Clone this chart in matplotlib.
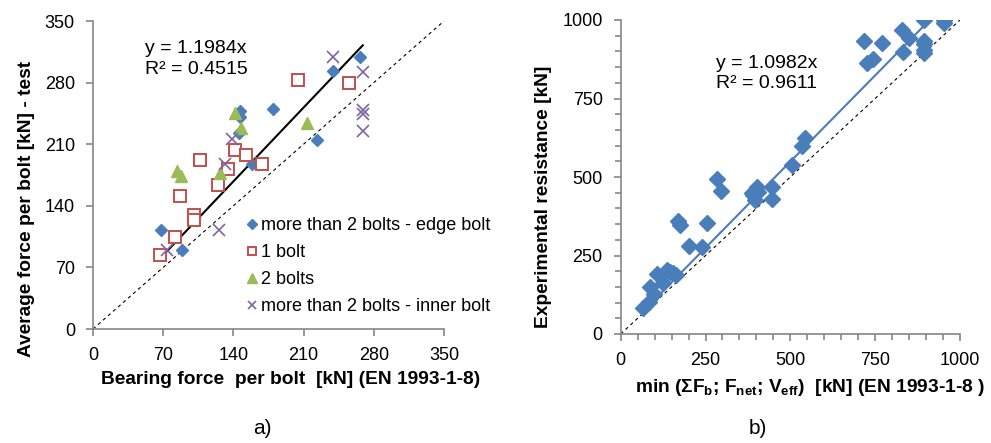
import numpy as np
import matplotlib
matplotlib.use("Agg")
import matplotlib.pyplot as plt
from matplotlib.ticker import MultipleLocator

plt.rcParams['font.family'] = ['Liberation Sans', 'DejaVu Sans']
plt.rcParams['mathtext.fontset'] = 'custom'
plt.rcParams['mathtext.rm'] = 'Liberation Sans:bold'
plt.rcParams['mathtext.it'] = 'Liberation Sans:bold'
plt.rcParams['mathtext.bf'] = 'Liberation Sans:bold'

# ---- panel a) data: bearing force per bolt vs average test force per bolt
edge_x = [68, 89, 147, 147, 146, 159, 179, 223, 239, 266]
edge_y = [112, 90, 248, 241, 223, 187, 250, 215, 293, 309]

one_x = [67, 82, 87, 101, 101, 107, 125, 135, 142, 153, 169, 204, 255]
one_y = [84, 104, 151, 130, 124, 192, 164, 182, 203, 198, 188, 283, 280]

two_x = [84, 88, 127, 142, 148, 213]
two_y = [180, 174, 177, 246, 228, 234]

inner_x = [74, 126, 132, 139, 239, 269, 269, 269, 269]
inner_y = [90, 112, 187, 216, 309, 292, 249, 244, 225]

slope_a = 1.1984
r2_a = 0.4515

# ---- panel b) data: min(sum Fb; Fnet; Veff) vs experimental resistance
res_x = [67, 82, 86, 99, 106, 126, 136, 145, 155, 163, 168, 175, 201, 239,
         254, 283, 295, 386, 391, 396, 401, 406, 445, 445, 506, 534, 544,
         718, 726, 745, 770, 829, 831, 851, 893, 893, 893, 893, 893, 954, 954]
res_y = [82, 103, 151, 126, 191, 163, 204, 198, 193, 188, 360, 347, 281, 278,
         353, 494, 455, 450, 443, 427, 469, 453, 469, 429, 538, 600, 623,
         934, 862, 876, 926, 968, 899, 942, 1000, 934, 922, 904, 896, 1000, 991]

slope_b = 1.0982
r2_b = 0.9611

blue = '#4A7EBB'
red = '#C0504D'
green = '#9BBB59'
purple = '#8064A2'
axis_col = '#868686'
tick_fs = 13
label_fs = 13.8
W, H = 991, 443


def style_axes(ax):
    for s in ['top', 'right']:
        ax.spines[s].set_visible(False)
    for s in ['left', 'bottom']:
        ax.spines[s].set_color(axis_col)
        ax.spines[s].set_linewidth(1.2)
    ax.tick_params(which='both', direction='out', color=axis_col, width=1.2,
                   labelsize=tick_fs, pad=8)
    ax.tick_params(which='major', length=5)
    ax.tick_params(which='minor', length=4)


fig = plt.figure(figsize=(9.91, 4.43), dpi=100)

# ---------------- a)
ax1 = fig.add_axes([93 / W, 1 - 329 / H, 351 / W, 308 / H])
ax1.plot([0, 350], [0, 350], ls=(0, (3, 3)), color='black', lw=0.8)
all_a = edge_x + one_x + two_x + inner_x
xa = np.array([min(all_a), max(all_a)])
ax1.plot(xa, slope_a * xa, color='black', lw=1.5)

ax1.plot(edge_x, edge_y, 'D', color=blue, ms=6.5, ls='none',
         label='more than 2 bolts - edge bolt')
ax1.plot(one_x, one_y, 's', mfc='white', mec=red, mew=1.4, ms=8, ls='none',
         label='1 bolt')
ax1.plot(two_x, two_y, '^', color=green, ms=8.5, ls='none', label='2 bolts')
ax1.plot(inner_x, inner_y, 'x', color=purple, mew=1.2, ms=8, ls='none',
         label='more than 2 bolts - inner bolt')

ax1.set_xlim(0, 350)
ax1.set_ylim(0, 350)
ax1.set_xticks(np.arange(0, 351, 70))
ax1.set_yticks(np.arange(0, 351, 70))
style_axes(ax1)
ax1.text(52, 328, f'y = {slope_a}x\nR² = {r2_a}', fontsize=14, va='top',
         linespacing=1.3)
ax1.legend(loc='center left', bbox_to_anchor=(0.427, 0.204), frameon=False,
           fontsize=tick_fs, handletextpad=0.0, handlelength=1.0,
           labelspacing=0.55, borderpad=0, borderaxespad=0, markerscale=0.8)

# ---------------- b)
ax2 = fig.add_axes([620.7 / W, 1 - 334 / H, 339.3 / W, 314 / H])
ax2.plot([0, 1000], [0, 1000], ls=(0, (3, 3)), color='black', lw=0.8)
xb = np.array([min(res_x), max(res_x)])
ax2.plot(xb, slope_b * xb, color=blue, lw=1.5)
ax2.plot(res_x, res_y, 'D', color=blue, ms=7.7, ls='none')
ax2.set_xlim(0, 1000)
ax2.set_ylim(0, 1000)
ax2.xaxis.set_major_locator(MultipleLocator(250))
ax2.yaxis.set_major_locator(MultipleLocator(250))
ax2.xaxis.set_minor_locator(MultipleLocator(50))
ax2.yaxis.set_minor_locator(MultipleLocator(50))
style_axes(ax2)
ax2.text(281, 890, f'y = {slope_b}x\nR² = {r2_b}', fontsize=14, va='top',
         linespacing=1.3)

# axis titles
fig.text(291 / W, 1 - 380 / H, 'Bearing force  per bolt  [kN] (EN 1993-1-8)',
         fontsize=label_fs, fontweight='bold', ha='center', va='center')
fig.text(27 / W, 1 - 209 / H, 'Average force per bolt [kN] - test',
         fontsize=label_fs, fontweight='bold', ha='center', va='center',
         rotation=90)
fig.text(810 / W, 1 - 387 / H,
         r'min (Σ$F_{b}$; $F_{net}$; $V_{eff}$)  [kN] (EN 1993-1-8 )',
         fontsize=label_fs, fontweight='bold', ha='center', va='center')
fig.text(544 / W, 1 - 197 / H, 'Experimental resistance [kN]',
         fontsize=label_fs, fontweight='bold', ha='center', va='center',
         rotation=90)

fig.text(262 / W, 1 - 428 / H, 'a)', fontsize=15, ha='center', va='center')
fig.text(758 / W, 1 - 428 / H, 'b)', fontsize=15, ha='center', va='center')

fig.savefig('out.png', dpi=100)
